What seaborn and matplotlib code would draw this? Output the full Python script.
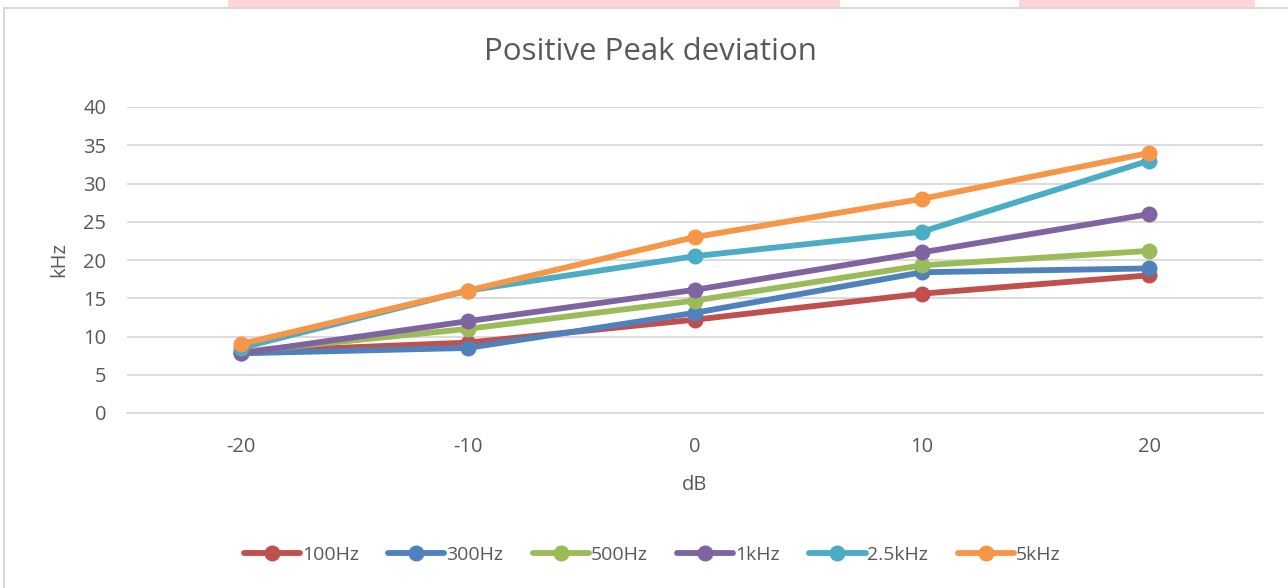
import matplotlib
matplotlib.use("Agg")
import matplotlib.pyplot as plt
import seaborn as sns
import pandas as pd
from matplotlib.lines import Line2D
from matplotlib.patches import Rectangle

categories = [-20, -10, 0, 10, 20]
series_names = ["100Hz", "300Hz", "500Hz", "1kHz", "2.5kHz", "5kHz"]
v_100hz = [8.0, 9.2, 12.2, 15.6, 18.0]
v_300hz = [7.8, 8.5, 13.1, 18.4, 18.9]
v_500hz = [8.0, 11.0, 14.7, 19.3, 21.2]
v_1khz = [7.8, 12.0, 16.1, 21.0, 26.0]
v_2_5khz = [8.5, 16.0, 20.5, 23.7, 33.0]
v_5khz = [9.0, 16.0, 23.0, 28.0, 34.0]
colors = ["#C0504D", "#4F81BD", "#9BBB59", "#8064A2", "#4BACC6", "#F79646"]

values = [v_100hz, v_300hz, v_500hz, v_1khz, v_2_5khz, v_5khz]
rows = []
for name, vals in zip(series_names, values):
    for i, v in enumerate(vals):
        rows.append({"pos": i, "value": v, "series": name})
df = pd.DataFrame(rows)

sns.set_theme(style="white")
plt.rcParams["font.family"] = ["Open Sans", "DejaVu Sans"]
text_color = "#595959"

fig = plt.figure(figsize=(12.88, 5.88), dpi=100)
ax = fig.add_axes([127 / 1288, 1 - 413 / 588, (1263 - 127) / 1288, (413 - 107) / 588])

sns.lineplot(data=df, x="pos", y="value", hue="series", palette=colors,
             hue_order=series_names, marker="o", markersize=11.5,
             markeredgewidth=0, linewidth=4.2, ax=ax, legend=False, zorder=3)

ax.set_xlim(-0.5, len(categories) - 0.5)
ax.set_ylim(0, 40)
ax.set_yticks(range(0, 41, 5))
ax.set_xticks(range(len(categories)))
ax.set_xticklabels([str(c) for c in categories])
ax.grid(axis="y", color="#D9D9D9", linewidth=1.3)
ax.grid(axis="x", visible=False)
for s in ["top", "right", "left"]:
    ax.spines[s].set_visible(False)
ax.spines["bottom"].set_color("#D9D9D9")
ax.spines["bottom"].set_linewidth(1.3)
ax.tick_params(axis="both", length=0, labelsize=14.5, colors=text_color)
ax.tick_params(axis="y", pad=15)
ax.tick_params(axis="x", pad=17)
ax.set_xlabel("dB", fontsize=14.5, color=text_color, labelpad=13)
ax.set_ylabel("kHz", fontsize=14.5, color=text_color, labelpad=10)
fig.text(650 / 1288, 1 - 52 / 588, "Positive Peak deviation", fontsize=22.5,
         color=text_color, ha="center", va="center")

handles = [Line2D([0], [0], color=c, linewidth=4.2, marker="o", markersize=11.5,
                  markeredgewidth=0) for c in colors]
fig.legend(handles, series_names, loc="center", bbox_to_anchor=(652 / 1288, 1 - 555 / 588),
           ncol=6, frameon=False, fontsize=14, labelcolor=text_color,
           handlelength=2.9, handletextpad=0.1, columnspacing=1.5)

# chart border and top artifacts
fig.patches.append(Rectangle((4 / 1288, -0.1), 1.2, 1 - 8 / 588 + 0.1,
                             transform=fig.transFigure, fill=False,
                             edgecolor="#D9D9D9", linewidth=1.5))
fig.patches.append(Rectangle((228 / 1288, 1 - 7 / 588), (840 - 228) / 1288, 7 / 588,
                             transform=fig.transFigure, color="#FFD6D6", linewidth=0))
fig.patches.append(Rectangle((1019 / 1288, 1 - 7 / 588), (1255 - 1019) / 1288, 7 / 588,
                             transform=fig.transFigure, color="#FFD6D6", linewidth=0))

fig.savefig("out.png", dpi=100)
